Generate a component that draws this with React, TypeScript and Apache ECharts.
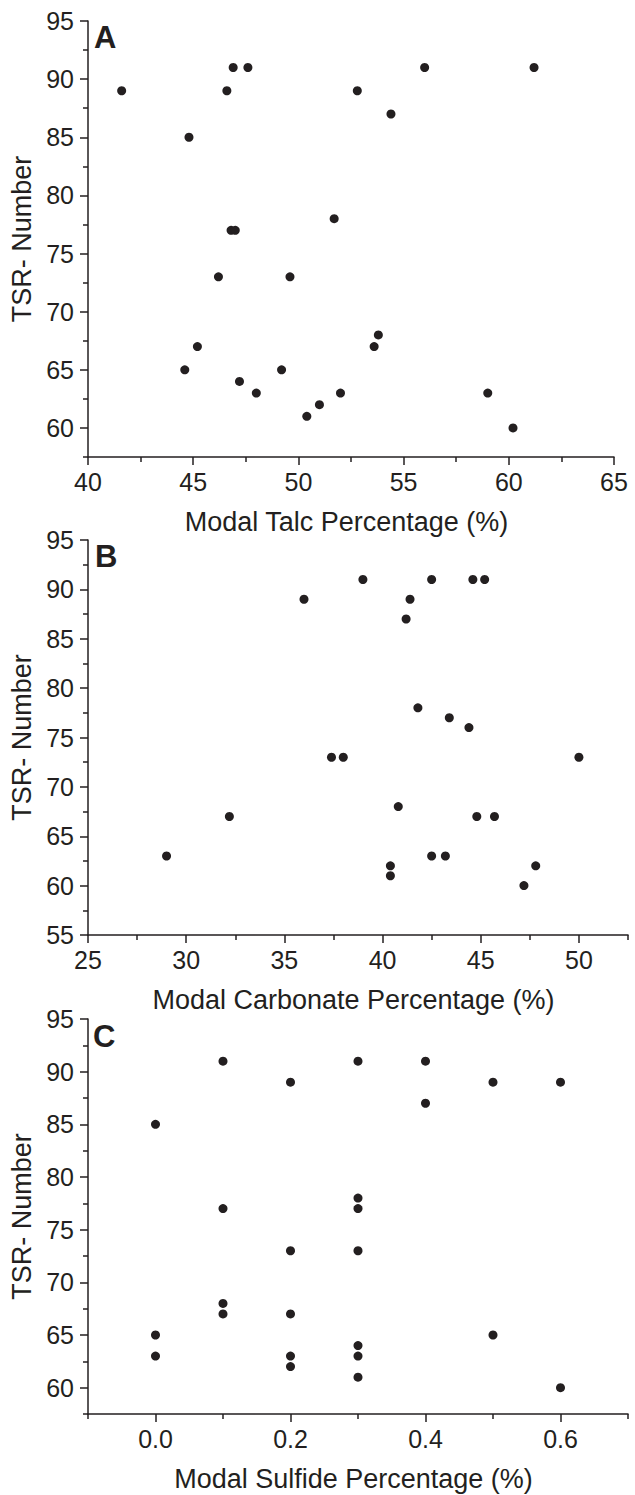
import React, { useEffect, useRef } from "react";
import * as echarts from "echarts";

// Panel A: Modal Talc Percentage vs TSR-Number
const talcPct = [41.6, 44.8, 46.6, 46.9, 47.6, 46.8, 47.0, 56.0, 61.2, 52.8, 54.4, 51.7, 46.2, 49.6, 45.2, 44.6, 47.2, 48.0, 49.2, 50.4, 51.0, 52.0, 53.8, 53.6, 59.0, 60.2];
const talcTSR = [89, 85, 89, 91, 91, 77, 77, 91, 91, 89, 87, 78, 73, 73, 67, 65, 64, 63, 65, 61, 62, 63, 68, 67, 63, 60];

// Panel B: Modal Carbonate Percentage vs TSR-Number
const carbPct = [36.0, 39.0, 42.5, 44.6, 45.2, 41.4, 41.2, 41.8, 43.4, 44.4, 37.4, 38.0, 50.0, 40.8, 44.8, 45.7, 42.5, 43.2, 40.4, 40.4, 47.8, 47.2, 32.2, 29.0];
const carbTSR = [89, 91, 91, 91, 91, 89, 87, 78, 77, 76, 73, 73, 73, 68, 67, 67, 63, 63, 62, 61, 62, 60, 67, 63];

// Panel C: Modal Sulfide Percentage vs TSR-Number
const sulfPct = [0.0, 0.1, 0.2, 0.1, 0.3, 0.4, 0.5, 0.6, 0.4, 0.3, 0.3, 0.0, 0.0, 0.1, 0.1, 0.2, 0.2, 0.2, 0.2, 0.3, 0.3, 0.3, 0.3, 0.5, 0.6];
const sulfTSR = [85, 91, 89, 77, 91, 91, 89, 89, 87, 78, 77, 65, 63, 68, 67, 73, 67, 63, 62, 73, 64, 63, 61, 65, 60];

// Tick values
const talcTicks = [40, 45, 50, 55, 60, 65];
const talcMinor = [42.5, 47.5, 52.5, 57.5, 62.5];
const carbTicks = [25, 30, 35, 40, 45, 50];
const carbMinor = [27.5, 32.5, 37.5, 42.5, 47.5, 52.5];
const sulfTicks = [0.0, 0.2, 0.4, 0.6];
const sulfMinor = [-0.1, 0.1, 0.3, 0.5, 0.7];
const tsrTicksAC = [60, 65, 70, 75, 80, 85, 90, 95];
const tsrTicksB = [55, 60, 65, 70, 75, 80, 85, 90, 95];
const tsrMinor = [57.5, 62.5, 67.5, 72.5, 77.5, 82.5, 87.5, 92.5];

const FONT = "'Liberation Sans', Arial, Helvetica, sans-serif";
const INK = "#231f20";

function mainX(grid: number, min: number, max: number, ticks: number[], name: string, fmt?: (v: number) => string) {
  return {
    type: "value",
    gridIndex: grid,
    position: "bottom",
    min,
    max,
    name,
    nameLocation: "middle",
    nameGap: 51,
    nameTextStyle: { fontFamily: FONT, fontSize: 27, color: INK, padding: [0, 9, 0, 0] },
    axisLine: { show: true, onZero: false, lineStyle: { color: INK, width: 1.5 } },
    axisTick: { show: true, inside: false, length: 8, customValues: ticks, lineStyle: { color: INK, width: 1.5 } },
    axisLabel: {
      show: true,
      customValues: ticks,
      margin: 12,
      fontFamily: FONT,
      fontSize: 25,
      color: INK,
      formatter: fmt ? (v: number) => fmt(v) : (v: number) => String(v),
    },
    splitLine: { show: false },
  };
}

function minorX(grid: number, min: number, max: number, ticks: number[]) {
  return {
    type: "value",
    gridIndex: grid,
    position: "bottom",
    min,
    max,
    axisLine: { show: false, onZero: false },
    axisTick: { show: true, inside: false, length: 5, customValues: ticks, lineStyle: { color: INK, width: 1.5 } },
    axisLabel: { show: false },
    splitLine: { show: false },
  };
}

function mainY(grid: number, min: number, max: number, ticks: number[]) {
  return {
    type: "value",
    gridIndex: grid,
    position: "left",
    min,
    max,
    name: "TSR- Number",
    nameLocation: "middle",
    nameGap: 50,
    nameTextStyle: { fontFamily: FONT, fontSize: 27, color: INK },
    axisLine: { show: true, onZero: false, lineStyle: { color: INK, width: 1.5 } },
    axisTick: { show: true, inside: false, length: 8, customValues: ticks, lineStyle: { color: INK, width: 1.5 } },
    axisLabel: { show: true, customValues: ticks, margin: 14, fontFamily: FONT, fontSize: 25, color: INK },
    splitLine: { show: false },
  };
}

function minorY(grid: number, min: number, max: number, ticks: number[]) {
  return {
    type: "value",
    gridIndex: grid,
    position: "left",
    min,
    max,
    axisLine: { show: false, onZero: false },
    axisTick: { show: true, inside: false, length: 5, customValues: ticks, lineStyle: { color: INK, width: 1.5 } },
    axisLabel: { show: false },
    splitLine: { show: false },
  };
}

function pairs(xs: number[], ys: number[]) {
  return xs.map((x, i) => [x, ys[i]]);
}

const dotStyle = { color: INK, opacity: 1 };

export default function App() {
  const ref = useRef<HTMLDivElement>(null);

  useEffect(() => {
    if (!ref.current) return;
    const chart = echarts.init(ref.current, undefined, { renderer: "svg" });
    const option = {
      animation: false,
      backgroundColor: "#ffffff",
      textStyle: { fontFamily: FONT },
      grid: [
        { left: 88, right: 21, top: 21, height: 436 },
        { left: 88, right: 7, top: 540, height: 395 },
        { left: 88, right: 7, top: 1019, height: 395 },
      ],
      xAxis: [
        mainX(0, 40, 65, talcTicks, "Modal Talc Percentage (%)"),
        minorX(0, 40, 65, talcMinor),
        mainX(1, 25, 52.5, carbTicks, "Modal Carbonate Percentage (%)"),
        minorX(1, 25, 52.5, carbMinor),
        mainX(2, -0.1, 0.7, sulfTicks, "Modal Sulfide Percentage (%)", (v) => v.toFixed(1)),
        minorX(2, -0.1, 0.7, sulfMinor),
      ],
      yAxis: [
        mainY(0, 57.5, 95, tsrTicksAC),
        minorY(0, 57.5, 95, tsrMinor),
        mainY(1, 55, 95, tsrTicksB),
        minorY(1, 55, 95, tsrMinor),
        mainY(2, 57.5, 95, tsrTicksAC),
        minorY(2, 57.5, 95, tsrMinor),
      ],
      series: [
        { type: "scatter", xAxisIndex: 0, yAxisIndex: 0, data: pairs(talcPct, talcTSR), symbolSize: 9, itemStyle: dotStyle },
        { type: "scatter", xAxisIndex: 2, yAxisIndex: 2, data: pairs(carbPct, carbTSR), symbolSize: 9, itemStyle: dotStyle },
        { type: "scatter", xAxisIndex: 4, yAxisIndex: 4, data: pairs(sulfPct, sulfTSR), symbolSize: 9, itemStyle: dotStyle },
      ],
      graphic: [
        { type: "text", left: 94, top: 22, style: { text: "A", font: `bold 31px ${FONT}`, fill: INK } },
        { type: "text", left: 95, top: 541, style: { text: "B", font: `bold 31px ${FONT}`, fill: INK } },
        { type: "text", left: 93, top: 1021, style: { text: "C", font: `bold 31px ${FONT}`, fill: INK } },
      ],
    };
    chart.setOption(option as any);
    return () => chart.dispose();
  }, []);

  return (
    <div
      ref={ref}
      style={{ position: "absolute", left: 0, top: 0, width: 635, height: 1495 }}
    />
  );
}
